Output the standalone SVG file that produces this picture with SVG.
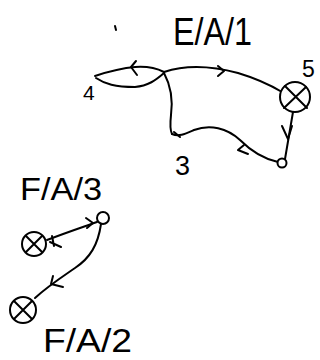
<svg xmlns="http://www.w3.org/2000/svg" width="320" height="360" viewBox="0 0 320 360">
<style>
.ln{fill:none;stroke:#000;stroke-width:2;stroke-linecap:round;stroke-linejoin:round}
.nd{fill:#fff;stroke:#000;stroke-width:2}
.tx{font-family:"Liberation Sans",Arial,sans-serif;fill:#000}
</style>
<rect width="320" height="360" fill="#fff"/>
<path class="ln" d="M115,26 L116,30"/>
<text class="tx" x="173" y="45" font-size="38" textLength="79" lengthAdjust="spacingAndGlyphs">E/A/1</text>
<g id="connectors">
<path class="ln" d="M95,76 C110,71 122,68 135,67 C148,66 156,68 164,72"/>
<path class="ln" d="M136,61 L131,67 L137,75"/>
<path class="ln" d="M96,78 C105,84 115,87 135,87 C148,86 156,80 164,73"/>
<path class="ln" d="M164,72 C188,64 212,66 238,73 C258,79 272,86 282,92"/>
<path class="ln" d="M218,66 L224,71 L218,76"/>
<path class="ln" d="M293,112 L285,159"/>
<path class="ln" d="M282,126 L288,139 L292,126"/>
<path class="ln" d="M278,162 C264,159 252,152 240,140 C227,128 210,124 194,130 C185,134 179,137 172,134"/>
<path class="ln" d="M244,145 L238,150 L248,154"/>
<path class="ln" d="M164,73 C171,86 173,100 171,115 C170,124 170,130 172,134"/>
<path class="ln" d="M174,132 L180,137"/>
<path class="ln" d="M47,240 C65,233 80,228 97,222"/>
<path class="ln" d="M86,218 L93,223 L87,228"/>
<path class="ln" d="M52,236 L54,246 M50,242 L61,247"/>
<path class="ln" d="M101,224 C98,245 90,258 75,268 C62,277 48,286 35,298"/>
<path class="ln" d="M53,276 L51,284 L63,287"/>
</g>
<g id="node-4">
<text class="tx" x="83" y="100" font-size="21">4</text>
</g>
<g id="node-3">
<text class="tx" x="175" y="175" font-size="27">3</text>
</g>
<g id="node-5">
<circle class="nd" cx="295" cy="97" r="15"/>
<path class="ln" d="M285,86 L307,108 M306,87 L284,108"/>
<text class="tx" x="302" y="77" font-size="23">5</text>
</g>
<g id="node-end">
<circle class="nd" cx="282" cy="163" r="4.5"/>
</g>
<g id="node-fa3">
<text class="tx" x="20" y="200" font-size="32" textLength="82" lengthAdjust="spacingAndGlyphs">F/A/3</text>
<circle class="nd" cx="103" cy="218" r="6"/>
</g>
<g id="node-fa3-x">
<circle class="nd" cx="34" cy="244" r="12"/>
<path class="ln" d="M26,236 L42,252 M42,236 L26,252"/>
</g>
<g id="node-fa2">
<circle class="nd" cx="23" cy="310" r="13"/>
<path class="ln" d="M14,301 L32,319 M32,301 L14,319"/>
<text class="tx" x="43" y="352" font-size="33" textLength="89" lengthAdjust="spacingAndGlyphs">F/A/2</text>
</g>
</svg>
